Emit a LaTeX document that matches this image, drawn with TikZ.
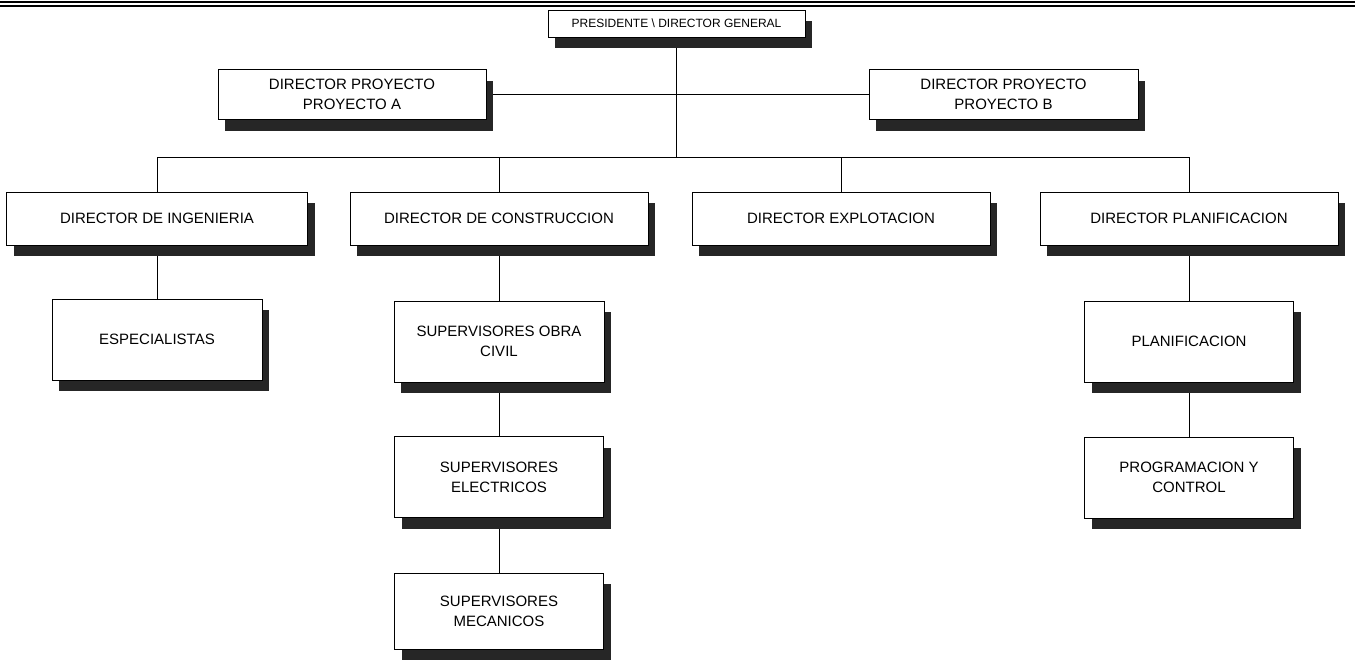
\documentclass[tikz,border=0pt]{standalone}
\usepackage{fontspec}
\setmainfont{Liberation Sans}
\usetikzlibrary{shadows,backgrounds}
\begin{document}
\begin{tikzpicture}[x=1pt,y=-1pt,
  unit/.style={draw=black, line width=0.6pt, fill=white, inner sep=2pt,
    align=center, font=\fontsize{15}{20}\selectfont,
    drop shadow={shadow xshift=7pt, shadow yshift=-11pt, fill=black!85, opacity=1}},
  wide/.style={minimum width=298pt, minimum height=53pt},
  tall/.style={minimum width=209pt, minimum height=81pt},
  link/.style={draw=black, line width=0.6pt}]
\useasboundingbox (0,0) rectangle (1355,665);

% double rule along the top edge
\draw[line width=1.2pt] (0,2) -- (1355,2);
\draw[line width=2.2pt] (0,5.6) -- (1355,5.6);

% top of the hierarchy
\node[unit, minimum width=257pt, minimum height=27pt,
      font=\fontsize{12}{14}\selectfont] (pres) at (676.5,23.5)
  {PRESIDENTE \textbackslash\ DIRECTOR GENERAL};
\node[unit, minimum width=268pt, minimum height=50pt] (pa) at (352,94.5)
  {DIRECTOR PROYECTO\\PROYECTO A};
\node[unit, minimum width=269pt, minimum height=50pt] (pb) at (1003.5,94.5)
  {DIRECTOR PROYECTO\\PROYECTO B};

% directors
\node[unit, wide, minimum width=301pt] (ing) at (157,218.5) {DIRECTOR DE INGENIERIA};
\node[unit, wide] (con) at (499,218.5) {DIRECTOR DE CONSTRUCCION};
\node[unit, wide] (exp) at (841,218.5) {DIRECTOR EXPLOTACION};
\node[unit, wide] (pla) at (1189,218.5) {DIRECTOR PLANIFICACION};

% staff under each director
\node[unit, tall, minimum width=210pt] (esp) at (157,339.5) {ESPECIALISTAS};
\node[unit, tall, minimum width=210pt] (soc) at (499,341.5) {SUPERVISORES OBRA\\CIVIL};
\node[unit, tall] (sel) at (499,477) {SUPERVISORES\\ELECTRICOS};
\node[unit, tall, minimum height=76pt] (sme) at (499,611) {SUPERVISORES\\MECANICOS};
\node[unit, tall] (spl) at (1189,341.5) {PLANIFICACION};
\node[unit, tall] (prg) at (1189,477.5) {PROGRAMACION Y\\CONTROL};

\coordinate (bus) at (676,157);

\begin{scope}[on background layer]
  \draw[link] (pres.south) -- (pres.south |- bus);
  \draw[link] (pa.east) -- (pb.west);
  \draw[link] (ing.north |- bus) -- (pla.north |- bus);
  \foreach \n in {ing,con,exp,pla}
    \draw[link] (\n.north) -- (\n.north |- bus);
  \draw[link] (ing.south) -- (esp.north);
  \draw[link] (con.south) -- (soc.north);
  \draw[link] (soc.south) -- (sel.north);
  \draw[link] (sel.south) -- (sme.north);
  \draw[link] (pla.south) -- (spl.north);
  \draw[link] (spl.south) -- (prg.north);
\end{scope}
\end{tikzpicture}
\end{document}
